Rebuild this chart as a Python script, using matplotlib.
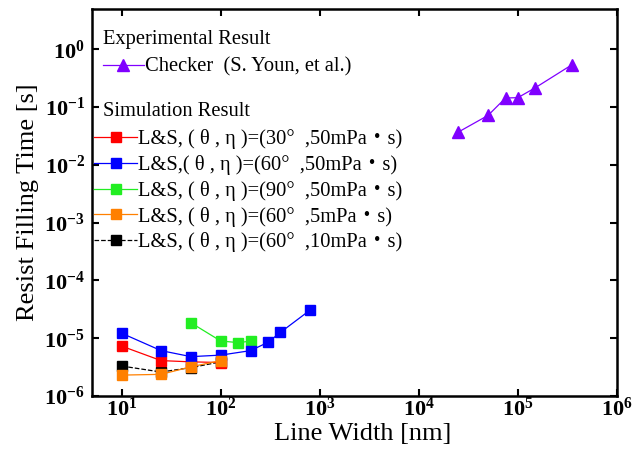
import matplotlib
matplotlib.use('Agg')
import matplotlib.pyplot as plt
from matplotlib.lines import Line2D
from matplotlib.font_manager import FontProperties

plt.rcParams['font.family'] = ['Liberation Serif', 'Noto Sans CJK JP', 'DejaVu Sans']
plt.rcParams['mathtext.fontset'] = 'custom'
plt.rcParams['mathtext.rm'] = 'Liberation Serif'
plt.rcParams['mathtext.bf'] = 'Liberation Serif:bold'
plt.rcParams['mathtext.it'] = 'Liberation Serif:italic'

# ---- data ----
exp_x = [25000, 50000, 75000, 100000, 150000, 350000]
exp_y = [0.037, 0.072, 0.144, 0.146, 0.217, 0.54]

red_x = [10, 25, 50, 100]
red_y = [7.3e-6, 4.1e-6, 3.9e-6, 3.8e-6]
blue_x = [10, 25, 50, 100, 200, 300, 400, 800]
blue_y = [1.22e-5, 6.1e-6, 4.8e-6, 5.1e-6, 6.1e-6, 8.5e-6, 1.26e-5, 3.08e-5]
green_x = [50, 100, 150, 200]
green_y = [1.85e-5, 8.95e-6, 8.4e-6, 8.9e-6]
orange_x = [10, 25, 50, 100]
orange_y = [2.3e-6, 2.37e-6, 3.2e-6, 4.1e-6]
black_x = [10, 25, 50, 100]
black_y = [3.3e-6, 2.6e-6, 3.1e-6, 3.9e-6]

exp_label = 'Checker  (S. Youn, et al.)'
sim_labels = ['L&S, ( θ , η )=(30°  ,50mPa・s)',
              'L&S,( θ , η )=(60°  ,50mPa・s)',
              'L&S, ( θ , η )=(90°  ,50mPa・s)',
              'L&S, ( θ , η )=(60°  ,5mPa・s)',
              'L&S, ( θ , η )=(60°  ,10mPa・s)']

xticks = [1e1, 1e2, 1e3, 1e4, 1e5, 1e6]
xticklabels = [r'$\mathbf{10^{1}}$', r'$\mathbf{10^{2}}$', r'$\mathbf{10^{3}}$',
               r'$\mathbf{10^{4}}$', r'$\mathbf{10^{5}}$', r'$\mathbf{10^{6}}$']
yticks = [1e-6, 1e-5, 1e-4, 1e-3, 1e-2, 1e-1, 1e0]
yticklabels = [r'$\mathbf{10^{-6}}$', r'$\mathbf{10^{-5}}$', r'$\mathbf{10^{-4}}$',
               r'$\mathbf{10^{-3}}$', r'$\mathbf{10^{-2}}$', r'$\mathbf{10^{-1}}$',
               r'$\mathbf{10^{0}}$']

fig = plt.figure(figsize=(6.38, 4.5), dpi=100)
ax = fig.add_axes([0.144, 0.12, 0.823, 0.86])

ms = 7.5
lw = 0.9
c_red, c_blue, c_green, c_orange, c_black, c_purple = '#ff0000', '#0000ff', '#22ee22', '#ff8000', '#000000', '#8000ff'

ax.plot(black_x, black_y, '--', color=c_black, marker='s', ms=ms, lw=lw, zorder=2)
ax.plot(red_x, red_y, '-', color=c_red, marker='s', ms=ms, lw=lw, zorder=3)
ax.plot(green_x, green_y, '-', color=c_green, marker='s', ms=ms, lw=lw, zorder=4)
ax.plot(blue_x, blue_y, '-', color=c_blue, marker='s', ms=ms, lw=lw, zorder=5)
ax.plot(orange_x, orange_y, '-', color=c_orange, marker='s', ms=ms, lw=lw, zorder=6)
ax.plot(exp_x, exp_y, '-', color=c_purple, marker='^', ms=9, lw=lw, zorder=5)

ax.set_xscale('log')
ax.set_yscale('log')
ax.set_xlim(5, 1e6)
ax.set_ylim(1e-6, 5)
ax.minorticks_off()
ax.set_xticks(xticks, xticklabels)
ax.set_yticks(yticks, yticklabels)
ax.tick_params(axis='both', which='both', direction='in', length=5, width=1.5,
               top=True, right=True, labelsize=16)
ax.tick_params(axis='x', pad=1)
ax.tick_params(axis='y', pad=5)
for s in ax.spines.values():
    s.set_linewidth(1.8)

ax.set_xlabel('Line Width [nm]', fontsize=19)
ax.xaxis.set_label_coords(0.515, -0.07)
ax.set_ylabel('Resist Filling Time [s]', fontsize=19, labelpad=4)

# legend
fs = 14.8
prop = FontProperties(family=['Liberation Serif', 'Noto Sans CJK JP'], size=fs)
ax.text(0.021, 0.92, 'Experimental Result', transform=ax.transAxes, fontsize=fs,
        va='center', ha='left')
ax.text(0.021, 0.736, 'Simulation Result', transform=ax.transAxes, fontsize=fs,
        va='center', ha='left')

h_exp = [Line2D([], [], color=c_purple, marker='^', ms=9, lw=lw)]
leg1 = ax.legend(h_exp, [exp_label], loc='center left', bbox_to_anchor=(0.021, 0.85),
                 frameon=False, prop=prop, handlelength=2.0, handletextpad=0.05,
                 borderpad=0, borderaxespad=0)
ax.add_artist(leg1)

h_sim = [Line2D([], [], color=c_red, marker='s', ms=ms, lw=lw),
         Line2D([], [], color=c_blue, marker='s', ms=ms, lw=lw),
         Line2D([], [], color=c_green, marker='s', ms=ms, lw=lw),
         Line2D([], [], color=c_orange, marker='s', ms=ms, lw=lw),
         Line2D([], [], color=c_black, marker='s', ms=ms, lw=lw, ls='--')]
leg2 = ax.legend(h_sim, sim_labels, loc='center left', bbox_to_anchor=(0.004, 0.53),
                 frameon=False, prop=prop, handlelength=2.1, handletextpad=0.05,
                 labelspacing=0.28, borderpad=0, borderaxespad=0)

fig.savefig('out.png', dpi=100)
